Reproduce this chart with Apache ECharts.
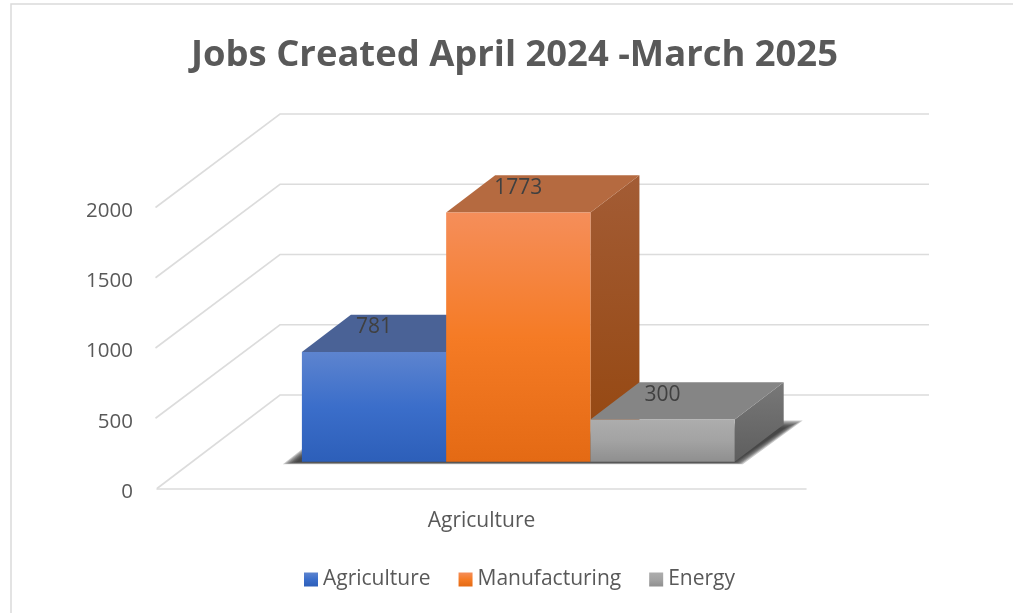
<!DOCTYPE html>
<html>
<head>
<meta charset="utf-8">
<style>
  html, body { margin: 0; padding: 0; background: #fff; }
  #chart { width: 1013px; height: 613px; }
</style>
<script src="https://cdn.jsdelivr.net/npm/echarts@6/dist/echarts.min.js"></script>
</head>
<body>
<div id="chart"></div>
<script>
// Chart content
const chartTitle = 'Jobs Created April 2024 -March 2025';
const categories = ['Agriculture'];
const seriesNames = ['Agriculture', 'Manufacturing', 'Energy'];
const seriesValues = [781, 1773, 300];
const yTicks = [0, 500, 1000, 1500, 2000];

// Face shading for each column: front gradient stops, top colour, side gradient stops
const faces = [
  { front: ['#5d84cf', '#3b6eca', '#2d5fb9'], top: '#4a6296', side: ['#4a6296', '#2f4f8f'] },
  { front: ['#f58e5a', '#f57b25', '#e46a14'], top: '#b56a40', side: ['#a35c35', '#94460e'] },
  { front: ['#adadad', '#a3a3a3', '#8f8f8f'], top: '#858585', side: ['#787878', '#5e5e5e'] }
];

const FONT = '"Open Sans", sans-serif';
const TEXT = '#595959';

// Oblique projection of the floor: back wall offset and column placement
const WALL_DX = 123, WALL_DY = -93.5;
const BAR_SHIFT_X = 36.8, BAR_SHIFT_Y = -26.8;
const BAR_DX = 49, BAR_DY = -37.3;
const BAR_WIDTH_RATIO = 0.2223;

const vGrad = (stops) => new echarts.graphic.LinearGradient(0, 0, 0, 1,
  stops.map((c, i) => ({ offset: i / (stops.length - 1), color: c })));

function barFrame(api, index, value) {
  const band = api.size([1, 0])[0];
  const w = band * BAR_WIDTH_RATIO;
  const c = api.coord([0, value]);
  const base = api.coord([0, 0]);
  const x0 = c[0] + BAR_SHIFT_X + (index - 1.5) * w;
  return { x0, x1: x0 + w, top: c[1] + BAR_SHIFT_Y, bottom: base[1] + BAR_SHIFT_Y };
}

function renderColumn(index) {
  return function (params, api) {
    const value = api.value(1);
    const f = barFrame(api, index, value);
    const face = faces[index];
    const poly = (points, fill, z2) => ({
      type: 'polygon', shape: { points }, style: { fill }, z2
    });
    return {
      type: 'group',
      children: [
        poly([[f.x1, f.top], [f.x1 + BAR_DX, f.top + BAR_DY], [f.x1 + BAR_DX, f.bottom + BAR_DY], [f.x1, f.bottom]],
          vGrad(face.side), 1),
        poly([[f.x0, f.top], [f.x0 + BAR_DX, f.top + BAR_DY], [f.x1 + BAR_DX, f.top + BAR_DY], [f.x1, f.top]],
          face.top, 1),
        poly([[f.x0, f.top], [f.x1, f.top], [f.x1, f.bottom], [f.x0, f.bottom]],
          vGrad(face.front), 2),
        {
          type: 'text', z2: 3,
          style: {
            text: String(value), x: (f.x0 + f.x1) / 2, y: f.top - 24.5,
            align: 'center', verticalAlign: 'middle',
            font: '21px ' + FONT, fill: '#404040'
          }
        }
      ]
    };
  };
}

// Receding wall lines: front edge, diagonal to the back wall, then across it
function renderWallLine(params, api) {
  const sys = params.coordSys;
  const y = api.coord([0, api.value(1)])[1];
  const left = sys.x - (api.value(1) === 0 ? 0 : 1.5);
  return {
    type: 'polyline',
    shape: { points: [[left, y], [sys.x + WALL_DX, y + WALL_DY], [sys.x + sys.width + WALL_DX, y + WALL_DY]] },
    style: { fill: 'none', stroke: '#dcdcdc', lineWidth: 1.6 }
  };
}

// Soft shadow cast on the floor: translucent layers stepping in from the outer edge to the core
function renderFloorShadow(params, api) {
  const a = barFrame(api, 0, 0);
  const c = barFrame(api, 2, 0);
  const outer = [
    [a.x0 - 19, a.bottom + 2.5],
    [a.x0 + 2, a.bottom - 14],
    [c.x1 + BAR_DX, c.bottom + BAR_DY - 4],
    [c.x1 + BAR_DX + 19, c.bottom + BAR_DY - 4],
    [c.x1 + 8, c.bottom + 2.5]
  ];
  const inner = [
    [a.x0 - 6, a.bottom + 0.5],
    [a.x0 + 2, a.bottom - 6],
    [c.x1 + BAR_DX, c.bottom + BAR_DY + 3],
    [c.x1 + BAR_DX + 2, c.bottom + BAR_DY + 3],
    [c.x1, c.bottom + 0.5]
  ];
  const layers = 7;
  const children = [];
  for (let i = 0; i < layers; i++) {
    const t = i / (layers - 1);
    children.push({
      type: 'polygon',
      z2: i,
      shape: { points: outer.map((p, k) => [p[0] + (inner[k][0] - p[0]) * t, p[1] + (inner[k][1] - p[1]) * t]) },
      style: { fill: 'rgba(45,45,45,0.26)' }
    });
  }
  return { type: 'group', children };
}

const columnSeries = seriesNames.map((name, i) => ({
  name,
  type: 'custom',
  coordinateSystem: 'cartesian2d',
  clip: false,
  silent: true,
  z: 5 + i,
  itemStyle: { color: vGrad(faces[i].front) },
  data: [[categories[0], seriesValues[i]]],
  renderItem: renderColumn(i)
}));

const chart = echarts.init(document.getElementById('chart'), null, { renderer: 'canvas' });
chart.setOption({
  animation: false,
  backgroundColor: '#ffffff',
  title: {
    text: chartTitle,
    left: 509.5,
    top: 33,
    textAlign: 'center',
    textStyle: { fontFamily: FONT, fontSize: 36.4, fontWeight: 'bold', color: TEXT }
  },
  graphic: [{
    // Chart frame; only its top and left edges fall inside the page
    type: 'rect',
    silent: true,
    shape: { x: 11, y: 4, width: 1100, height: 700 },
    style: { fill: 'none', stroke: '#dadada', lineWidth: 1.5 },
    z: 0
  }],
  grid: { left: 157, top: 207.5, width: 649, height: 281, containLabel: false },
  xAxis: {
    type: 'category',
    data: categories,
    axisTick: { show: false },
    axisLine: { show: true, lineStyle: { color: '#dcdcdc', width: 1.6 } },
    axisLabel: { margin: 22, color: TEXT, fontFamily: FONT, fontSize: 21 }
  },
  yAxis: {
    type: 'value',
    min: 0,
    max: 2000,
    interval: 500,
    axisLine: { show: false },
    axisTick: { show: false },
    splitLine: { show: false },
    axisLabel: {
      margin: 24, color: TEXT, fontFamily: FONT, fontSize: 20.5,
      verticalAlign: 'top',
      lineHeight: 7,
      formatter: (v) => String(v)
    }
  },
  legend: {
    data: seriesNames,
    padding: 0,
    left: 304,
    top: 569,
    itemWidth: 14,
    itemHeight: 14,
    itemGap: 28,
    icon: 'rect',
    textStyle: { color: TEXT, fontFamily: FONT, fontSize: 21 }
  },
  series: [
    {
      type: 'custom',
      coordinateSystem: 'cartesian2d',
      clip: false,
      silent: true,
      z: 1,
      data: yTicks.map((t) => [categories[0], t]),
      renderItem: renderWallLine
    },
    {
      type: 'custom',
      coordinateSystem: 'cartesian2d',
      clip: false,
      silent: true,
      z: 2,
      data: [[categories[0], 0]],
      renderItem: renderFloorShadow
    },
    ...columnSeries
  ]
});
</script>
</body>
</html>
